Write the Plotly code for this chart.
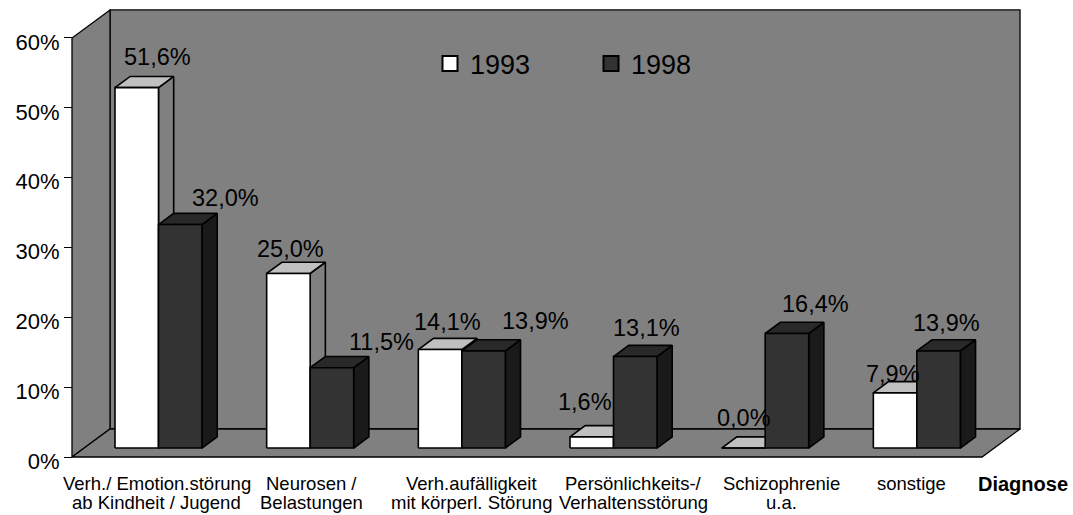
import plotly.graph_objects as go

# ---------------- data ----------------
cat_line1 = ["Verh./ Emotion.störung", "Neurosen /", "Verh.aufälligkeit",
             "Persönlichkeits-/", "Schizophrenie", "sonstige"]
cat_line2 = ["ab Kindheit / Jugend", "Belastungen", "mit körperl. Störung",
             "Verhaltensstörung", "u.a.", ""]
series_names = ["1993", "1998"]
values_1993 = [51.6, 25.0, 14.1, 1.6, 0.0, 7.9]
values_1998 = [32.0, 11.5, 13.9, 13.1, 16.4, 13.9]
y_tickvals = [0, 10, 20, 30, 40, 50, 60]
y_ticktext = ["0%", "10%", "20%", "30%", "40%", "50%", "60%"]
y_max = 60
axis_title = "Diagnose"

# ---------------- styles / geometry ----------------
FONT = "Liberation Sans, Arial, Helvetica, sans-serif"
W, H = 1073, 515
L, R, T, B = 69, 1023, 7, 460          # plot area in px
ORIGIN_X, ORIGIN_Y = 72, 457           # px of front-left floor corner (0 %)
CAT_PX = 151.67                         # px per category at the front plane
PCT_PX = 6.984                          # px per percent
DEPTH_X, DEPTH_Y = 38, 28               # px offset of the back plane
DXU = DEPTH_X / CAT_PX
DYU = DEPTH_Y / PCT_PX
F0, F1 = 0.32, 0.72                     # bar depth (front/back fraction)
BAR_W = 43.5 / CAT_PX
GROUP_SHIFT = -1.5 / CAT_PX

face_colors = [
    {"front": "#FFFFFF", "top": "#C0C0C0", "side": "#808080"},
    {"front": "#333333", "top": "#292929", "side": "#1A1A1A"},
]
WALL = "#808080"

# label nudges (px) relative to the back-centre of each bar's top face
label_nudge = [
    [(6, -19), (-13, -13), (-8, -16), (-22, -24), (-15, -19), (-17, -8)],
    [(30, -15), (34, -15), (37, -19), (-4, -17), (13, -18), (-7, -16.5)],
]
cat_label_dx = [9, 11.5, 20, 31, 26.5, 5]   # px
CAT_Y1, CAT_Y2 = 483.8, 502.2               # px centres of the label lines

x0, x1 = -0.5, len(cat_line1) - 0.5


def proj(x, v, f):
    return x + f * DXU, v + f * DYU


def poly(pts, fill, width=1.5):
    xs = [p[0] for p in pts] + [pts[0][0]]
    ys = [p[1] for p in pts] + [pts[0][1]]
    return go.Scatter(x=xs, y=ys, mode="lines", fill="toself", fillcolor=fill,
                      line=dict(color="black", width=width),
                      hoverinfo="skip", showlegend=False)


fig = go.Figure()

# walls and floor
fig.add_trace(poly([proj(x0, 0, 1), proj(x1, 0, 1), proj(x1, y_max, 1), proj(x0, y_max, 1)], WALL, 1.3))
fig.add_trace(poly([proj(x0, 0, 0), proj(x0, 0, 1), proj(x0, y_max, 1), proj(x0, y_max, 0)], WALL, 1.3))
fig.add_trace(poly([proj(x0, 0, 0), proj(x1, 0, 0), proj(x1, 0, 1), proj(x0, 0, 1)], WALL, 1.3))

annotations = []
series_values = [values_1993, values_1998]
for i in range(len(cat_line1)):
    for s, vals in enumerate(series_values):
        v = vals[i]
        xl = i + GROUP_SHIFT - BAR_W + s * BAR_W
        xr = xl + BAR_W
        c = face_colors[s]
        fig.add_trace(poly([proj(xr, 0, F0), proj(xr, 0, F1), proj(xr, v, F1), proj(xr, v, F0)], c["side"], 1.6))
        fig.add_trace(poly([proj(xl, v, F0), proj(xr, v, F0), proj(xr, v, F1), proj(xl, v, F1)], c["top"], 1.6))
        fig.add_trace(poly([proj(xl, 0, F0), proj(xr, 0, F0), proj(xr, v, F0), proj(xl, v, F0)], c["front"], 1.6))
        bx, bv = proj((xl + xr) / 2, v, F1)
        dx, dy = label_nudge[s][i]
        annotations.append(dict(
            x=bx + dx / CAT_PX, y=bv - dy / PCT_PX, xref="x", yref="y",
            text=f"{v:.1f}".replace(".", ",") + "%", showarrow=False,
            xanchor="center", yanchor="middle",
            font=dict(family=FONT, size=23.5, color="black")))

def paper_y(py):
    return (B - py) / (B - T)

for i in range(len(cat_line1)):
    cx = i + cat_label_dx[i] / CAT_PX
    for txt, py in ((cat_line1[i], CAT_Y1), (cat_line2[i], CAT_Y2)):
        if txt:
            annotations.append(dict(
                x=cx, y=paper_y(py), xref="x", yref="paper", text=txt,
                showarrow=False, xanchor="center", yanchor="middle",
                font=dict(family=FONT, size=18.5, color="black")))

annotations.append(dict(
    x=(1023 - ORIGIN_X) / CAT_PX - 0.5, y=paper_y(CAT_Y1), xref="x", yref="paper",
    text=f"<b>{axis_title}</b>", showarrow=False, xanchor="center", yanchor="middle",
    font=dict(family=FONT, size=20, color="black")))

# legend entries
for s, name in enumerate(series_names):
    fig.add_trace(go.Scatter(
        x=[None], y=[None], mode="markers", name=name,
        marker=dict(symbol="square", size=15, color=face_colors[s]["front"],
                    line=dict(color="black", width=2))))

fig.update_layout(
    width=W, height=H,
    margin=dict(l=L, r=W - R, t=T, b=H - B, pad=0),
    paper_bgcolor="white", plot_bgcolor="white",
    showlegend=True,
    legend=dict(orientation="h", x=(430 - L) / (R - L), y=paper_y(64),
                xanchor="left", yanchor="middle", bgcolor="rgba(0,0,0,0)",
                font=dict(family=FONT, size=27, color="black"),
                entrywidth=116, entrywidthmode="pixels", borderwidth=0),
    xaxis=dict(range=[(L - ORIGIN_X) / CAT_PX - 0.5, (R - ORIGIN_X) / CAT_PX - 0.5],
               visible=False, fixedrange=True),
    yaxis=dict(range=[(ORIGIN_Y - B) / PCT_PX, (ORIGIN_Y - T) / PCT_PX],
               anchor="free", position=(ORIGIN_X - L) / (R - L),
               tickvals=y_tickvals, ticktext=y_ticktext,
               ticks="outside", ticklen=8, tickwidth=1.3, tickcolor="black",
               ticklabelshift=4,
               showline=False, showgrid=False, zeroline=False,
               tickfont=dict(family=FONT, size=22, color="black"), fixedrange=True),
    annotations=annotations,
)

fig.write_html("out.html", config={"displayModeBar": False},
               post_script="document.body.style.margin='0px';document.body.style.padding='0px';")
